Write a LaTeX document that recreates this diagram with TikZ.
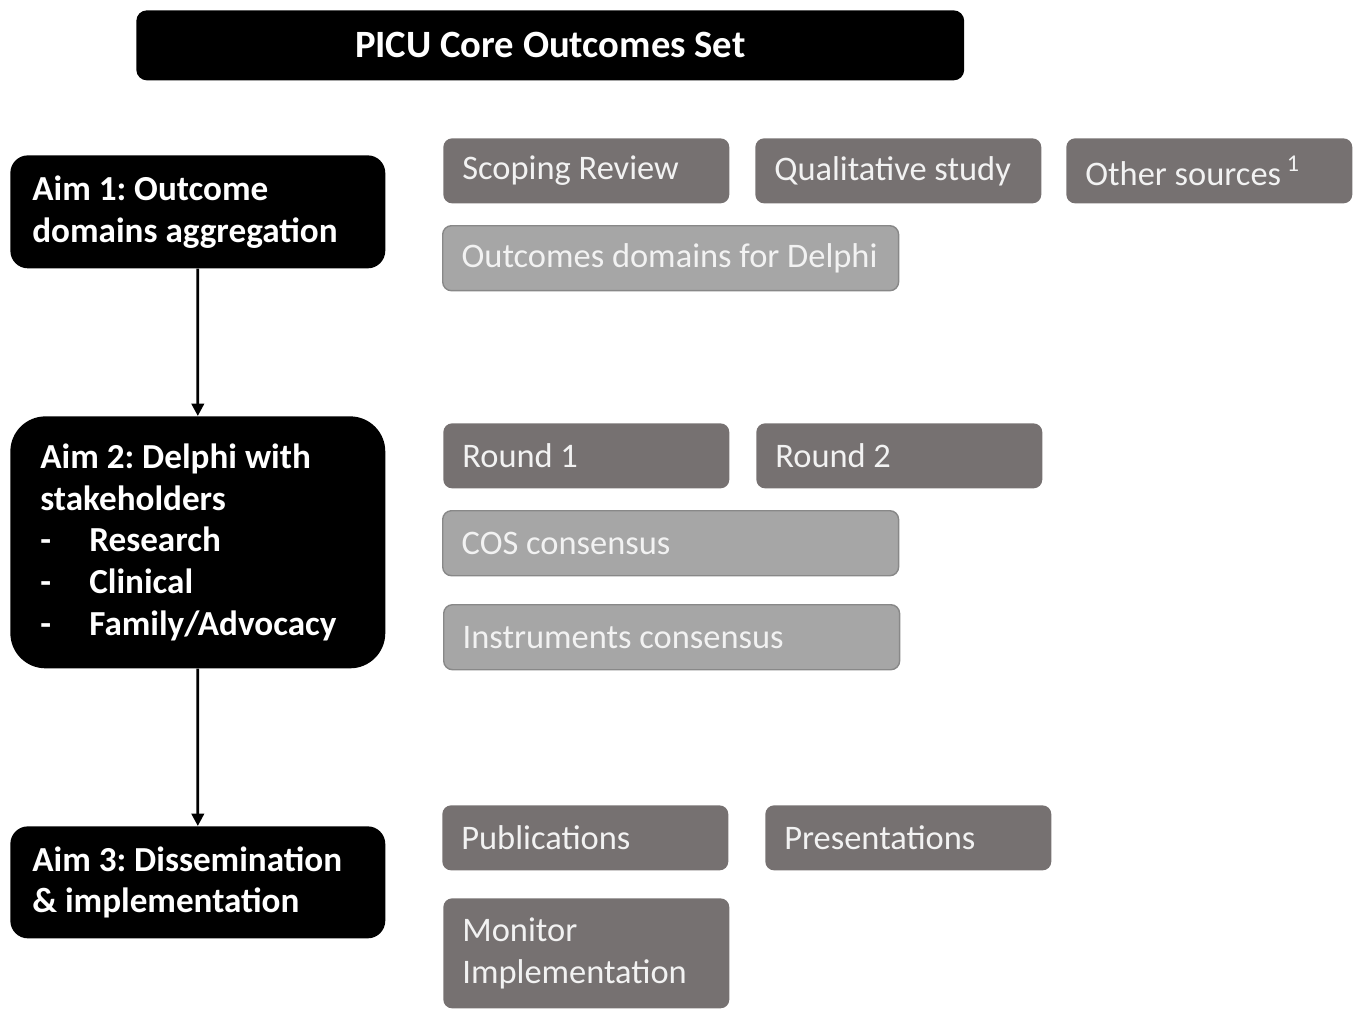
\documentclass[tikz,border=0pt]{standalone}
\usepackage{fontspec}
\setmainfont{Carlito}
\usetikzlibrary{arrows.meta,positioning}
\definecolor{boxdark}{HTML}{767171}
\definecolor{boxlight}{HTML}{A6A6A6}
\definecolor{boxedge}{HTML}{888888}
\definecolor{boxtext}{HTML}{F2F2F2}
\tikzset{
	headbox/.style={fill=black,text=white,rounded corners=6pt,anchor=north west,font=\bfseries\fontsize{22}{26}\selectfont,minimum width=16.56cm,minimum height=1.4cm},
	aimbox/.style={fill=black,text=white,rounded corners=10pt,anchor=north west,align=flush left,font=\bfseries\fontsize{20}{23.8}\selectfont,inner xsep=0.44cm,text width=6.62cm},
	darkbox/.style={fill=boxdark,text=boxtext,rounded corners=5pt,anchor=north west,align=flush left,font=\fontsize{19.6}{23.8}\selectfont,inner xsep=0.38cm,text width=4.96cm,minimum height=1.3cm},
	lightbox/.style={darkbox,fill=boxlight,draw=boxedge,line width=0.8pt,text width=8.36cm},
	flow/.style={-{Triangle[length=7pt,width=7pt]},line width=1.6pt}
}
\newcommand{\listdash}{\makebox[0.98cm][l]{-}}
\frenchspacing

\begin{document}
\begin{tikzpicture}[x=0.02cm,y=-0.02cm]
	\useasboundingbox (0,0) rectangle (1360,1009);
	
	\node[headbox] (cos) at (136,10) {PICU Core Outcomes Set};
	
	% aims column
	\node[aimbox,minimum height=2.26cm] (aim1) at (10,155) {Aim 1: Outcome\\domains aggregation};
	\node[aimbox,minimum height=5.04cm,rounded corners=20pt,inner xsep=0.6cm,text width=6.3cm] (aim2) at (10,416) {Aim 2: Delphi with\\stakeholders\\\listdash Research\\\listdash Clinical\\\listdash Family/Advocacy};
	\node[aimbox,minimum height=2.24cm] (aim3) at (10,826) {Aim 3: Dissemination\\\& implementation};
	
	\draw[flow] (aim1) -- (aim2);
	\draw[flow] (aim2) -- (aim3);
	
	% aim 1 parts
	\node[darkbox] (scoping) at (443,138) {Scoping Review};
	\node[darkbox] (qualit) at (755,138) {Qualitative study};
	\node[darkbox] (other) at (1066,138) {Other sources\,\textsuperscript{1}};
	\node[lightbox] (domains) at (442,225) {Outcomes domains for Delphi};
	
	% aim 2 parts
	\node[darkbox] (round1) at (443,423) {Round 1};
	\node[darkbox] (round2) at (756,423) {Round 2};
	\node[lightbox] (cosdone) at (442,510) {COS consensus};
	\node[lightbox] (instr) at (443,604) {Instruments consensus};
	
	% aim 3 parts
	\node[darkbox] (pubs) at (442,805) {Publications};
	\node[darkbox] (pres) at (765,805) {Presentations};
	\node[darkbox,minimum height=2.2cm] (monitor) at (443,898) {Monitor\\Implementation};
\end{tikzpicture}
\end{document}
